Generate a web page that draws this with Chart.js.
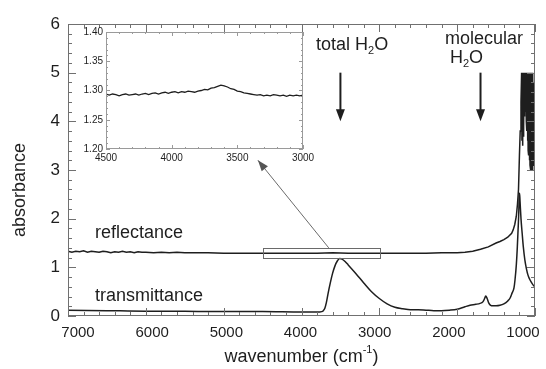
<!DOCTYPE html>
<html>
<head>
<meta charset="utf-8">
<script src="https://cdn.jsdelivr.net/npm/chart.js@4.4.1/dist/chart.umd.min.js"></script>
<style>
  html, body { margin: 0; padding: 0; background: #fff; }
  #wrap { position: relative; width: 546px; height: 369px; }
  #main { position: absolute; left: 0; top: 0; }
  #inset { position: absolute; left: 66px; top: 24px; }
</style>
</head>
<body>
<div id="wrap">
  <canvas id="main" width="546" height="369"></canvas>
  <canvas id="inset" width="254" height="146"></canvas>
</div>
<script>
// reflectance spectrum (wavenumber cm-1 / absorbance)
const reflWn = [7000, 6950, 6900, 6850, 6800, 6750, 6700, 6650, 6600, 6550, 6500, 6450, 6400, 6350, 6300, 6250, 6200, 6150, 6100, 6050,
  6000, 5900, 5800, 5700, 5600, 5500, 5400, 5300, 5200, 5000, 4800, 4600, 4400, 4200, 4000, 3800, 3600, 3400, 3200, 3000,
  2800, 2600, 2400, 2200, 2000, 1900, 1800, 1700, 1600, 1500, 1450, 1400, 1350, 1300, 1280, 1260, 1240, 1225, 1212, 1200,
  1190, 1180, 1172,
  1168, 1164, 1160, 1156, 1152, 1148, 1144, 1140, 1136, 1132, 1128, 1124, 1120, 1116, 1112, 1108, 1104, 1100, 1096, 1092,
  1088, 1084, 1080, 1076, 1072, 1068, 1064, 1060, 1056, 1052, 1048, 1044, 1040, 1036, 1032, 1028, 1024, 1020, 1016, 1012,
  1008, 1004, 1000];
const reflAbs = [1.33, 1.31, 1.33, 1.32, 1.34, 1.31, 1.33, 1.32, 1.31, 1.33, 1.32, 1.30, 1.32, 1.31, 1.33, 1.31, 1.32, 1.30, 1.32, 1.31,
  1.31, 1.30, 1.31, 1.30, 1.31, 1.30, 1.30, 1.30, 1.30, 1.29, 1.29, 1.29, 1.29, 1.29, 1.29, 1.29, 1.30, 1.29, 1.29, 1.29,
  1.29, 1.29, 1.29, 1.30, 1.30, 1.31, 1.33, 1.37, 1.42, 1.50, 1.53, 1.57, 1.62, 1.70, 1.77, 1.88, 2.05, 2.30, 2.60, 3.30,
  3.80, 4.40, 5.00,
  3.60, 5.00, 3.50, 5.00, 3.70, 5.00, 3.90, 5.00, 4.10, 5.00, 4.30, 5.00, 4.20, 5.00, 4.00, 5.00, 3.80, 5.00, 3.60, 5.00,
  3.40, 5.00, 3.30, 5.00, 3.20, 5.00, 3.10, 5.00, 3.00, 5.00, 3.00, 5.00, 3.00, 4.90, 3.00, 5.00, 3.10, 4.80, 3.20, 4.20,
  3.10, 3.60, 3.20];

// transmittance spectrum
const transWn = [7000, 6500, 6000, 5500, 5000, 4500, 4000, 3800, 3740, 3720, 3700, 3680, 3660, 3630, 3600, 3570, 3540, 3510, 3480, 3440,
  3400, 3300, 3200, 3100, 3000, 2900, 2800, 2700, 2600, 2500, 2400, 2300, 2200, 2100, 2000, 1900, 1835, 1760, 1706, 1670,
  1650, 1633, 1615, 1595, 1570, 1540, 1500, 1450, 1400, 1350, 1320, 1295, 1270, 1257, 1240, 1227, 1218, 1209, 1203, 1198,
  1192, 1180, 1165, 1150, 1130, 1110, 1090, 1070, 1050, 1030, 1010, 1000];
const transAbs = [0.12, 0.11, 0.10, 0.10, 0.09, 0.09, 0.08, 0.08, 0.09, 0.11, 0.16, 0.28, 0.45, 0.68, 0.88, 1.03, 1.13, 1.18, 1.17, 1.12,
  1.05, 0.87, 0.68, 0.50, 0.36, 0.25, 0.18, 0.15, 0.13, 0.13, 0.12, 0.11, 0.11, 0.12, 0.14, 0.19, 0.22, 0.24, 0.26, 0.29,
  0.35, 0.41, 0.36, 0.27, 0.22, 0.21, 0.21, 0.22, 0.25, 0.31, 0.37, 0.47, 0.58, 0.74, 1.05, 1.42, 1.75, 2.10, 2.45, 2.52,
  2.35, 2.00, 1.70, 1.42, 1.15, 0.97, 0.84, 0.76, 0.70, 0.65, 0.61, 0.60];

// inset: reflectance between 4500 and 3000 cm-1
const insetWn = [4500, 4475, 4450, 4425, 4400, 4375, 4350, 4325, 4300, 4275, 4250, 4225, 4200, 4175, 4150, 4125, 4100, 4075, 4050, 4025,
  4000, 3975, 3950, 3925, 3900, 3875, 3850, 3825, 3800, 3775, 3750, 3725, 3700, 3675, 3650, 3625, 3600, 3575, 3550, 3525,
  3500, 3475, 3450, 3425, 3400, 3375, 3350, 3325, 3300, 3275, 3250, 3225, 3200, 3175, 3150, 3125, 3100, 3075, 3050, 3025, 3000];
const insetAbs = [1.294, 1.292, 1.294, 1.293, 1.291, 1.293, 1.294, 1.292, 1.293, 1.294, 1.292, 1.294, 1.295, 1.293, 1.295, 1.296, 1.294, 1.296, 1.297, 1.295,
  1.297, 1.298, 1.296, 1.298, 1.297, 1.299, 1.298, 1.297, 1.299, 1.300, 1.302, 1.301, 1.304, 1.305, 1.307, 1.309, 1.308, 1.306, 1.303, 1.302,
  1.299, 1.298, 1.296, 1.295, 1.294, 1.293, 1.292, 1.293, 1.291, 1.292, 1.291, 1.293, 1.292, 1.291, 1.292, 1.290, 1.292, 1.291, 1.292, 1.291, 1.292];

// tick labels
const mainXTicks = [1000, 2000, 3000, 4000, 5000, 6000, 7000];
const mainYTicks = [0, 1, 2, 3, 4, 5, 6];
const insetXTicks = [3000, 3500, 4000, 4500];
const insetYTicks = [1.20, 1.25, 1.30, 1.35, 1.40];

const FONT = "'Liberation Sans', Arial, Helvetica, sans-serif";
const INK = '#1e1e1e';

const toPts = (xs, ys) => xs.map((v, i) => ({x: v, y: ys[i]}));

function seg(ctx, x1, y1, x2, y2) {
    ctx.beginPath(); ctx.moveTo(x1, y1); ctx.lineTo(x2, y2); ctx.stroke();
}

// frame + inward ticks on all four sides
function drawFrame(chart, xMinor, xMajor, yMinor, yMajor, lens, color) {
    const {ctx, chartArea: a, scales: {x, y}} = chart;
    ctx.save();
    ctx.strokeStyle = color;
    ctx.lineWidth = 1;
    ctx.strokeRect(Math.round(a.left) + 0.5, Math.round(a.top) + 0.5,
        Math.round(a.right - a.left) - 1, Math.round(a.bottom - a.top) - 1);
    const nx = Math.round((x.max - x.min) / xMinor);
    for (let k = 0; k <= nx; k++) {
        const v = x.min + k * xMinor;
        const px = Math.round(x.getPixelForValue(v)) + 0.5;
        const len = Math.abs(v / xMajor - Math.round(v / xMajor)) < 1e-6 ? lens[0] : lens[1];
        seg(ctx, px, a.bottom, px, a.bottom - len);
        seg(ctx, px, a.top, px, a.top + len);
    }
    const ny = Math.round((y.max - y.min) / yMinor);
    for (let k = 0; k <= ny; k++) {
        const v = y.min + k * yMinor;
        const py = Math.round(y.getPixelForValue(v)) + 0.5;
        const len = Math.abs(v / yMajor - Math.round(v / yMajor)) < 1e-6 ? lens[0] : lens[1];
        seg(ctx, a.left, py, a.left + len, py);
        seg(ctx, a.right, py, a.right - len, py);
    }
    ctx.restore();
}

// text with a subscript part: parts = [[text, isSub], ...]
function subText(ctx, parts, x, y, size) {
    let cx = x;
    parts.forEach(([t, sub]) => {
        ctx.font = (sub ? Math.round(size * 0.62) : size) + 'px ' + FONT;
        ctx.fillText(t, cx, sub ? y + size * 0.33 : y);
        cx += ctx.measureText(t).width;
    });
}

function arrowHead(ctx, x1, y1, x2, y2, len, half) {
    const ang = Math.atan2(y2 - y1, x2 - x1);
    ctx.beginPath();
    ctx.moveTo(x2, y2);
    ctx.lineTo(x2 - len * Math.cos(ang) + half * Math.sin(ang), y2 - len * Math.sin(ang) - half * Math.cos(ang));
    ctx.lineTo(x2 - len * Math.cos(ang) - half * Math.sin(ang), y2 - len * Math.sin(ang) + half * Math.cos(ang));
    ctx.closePath();
    ctx.fill();
}

const mainDecor = {
    id: 'mainDecor',
    beforeDraw(chart) {
        // the printed labels sit a little closer together than the ticks: nudge them toward the middle
        chart.scales.x.getLabelItems().forEach(it => {
            const v = Number(it.label);
            it.options.translation[0] += -12 + (v - 1000) / 6000 * 22;
        });
    },
    afterDatasetsDraw(chart) {
        drawFrame(chart, 200, 1000, 0.2, 1, [8, 4], '#707070');
        const {ctx, chartArea: a, scales: {x, y}} = chart;
        ctx.save();
        ctx.fillStyle = INK;
        ctx.textBaseline = 'middle';
        ctx.textAlign = 'left';

        // axis titles
        ctx.font = '18px ' + FONT;
        ctx.save();
        ctx.translate(20, 190);
        ctx.rotate(-Math.PI / 2);
        ctx.textAlign = 'center';
        ctx.fillText('absorbance', 0, 0);
        ctx.restore();
        const t1 = 'wavenumber (cm', t2 = '-1', t3 = ')';
        ctx.font = '18px ' + FONT; const w1 = ctx.measureText(t1).width, w3 = ctx.measureText(t3).width;
        ctx.font = '11px ' + FONT; const w2 = ctx.measureText(t2).width;
        let tx = (a.left + a.right) / 2 - (w1 + w2 + w3) / 2;
        ctx.font = '18px ' + FONT; ctx.fillText(t1, tx, 357); tx += w1;
        ctx.font = '11px ' + FONT; ctx.fillText(t2, tx, 350); tx += w2;
        ctx.font = '18px ' + FONT; ctx.fillText(t3, tx, 357);

        // curve labels
        ctx.fillText('reflectance', 95, 233);
        ctx.fillText('transmittance', 95, 296);

        // band annotations
        subText(ctx, [['total H', false], ['2', true], ['O', false]], 316, 45, 18);
        ctx.font = '18px ' + FONT;
        ctx.fillText('molecular', 445, 39);
        subText(ctx, [['H', false], ['2', true], ['O', false]], 450, 58, 18);

        ctx.strokeStyle = INK;
        ctx.lineWidth = 2;
        [3500, 1700].forEach(v => {
            const px = x.getPixelForValue(v);
            const y1 = y.getPixelForValue(5.0), y2 = y.getPixelForValue(4.0);
            seg(ctx, px, y1, px, y2 - 8);
            arrowHead(ctx, px, y1, px, y2, 12, 4.5);
        });

        // zoom box and connector to the inset
        ctx.strokeStyle = '#6a6a6a';
        ctx.lineWidth = 1;
        const bx1 = x.getPixelForValue(4500), bx2 = x.getPixelForValue(3000);
        const by1 = y.getPixelForValue(1.4), by2 = y.getPixelForValue(1.2);
        ctx.strokeRect(Math.round(bx1) + 0.5, Math.round(by1) + 0.5, Math.round(bx2 - bx1), Math.round(by2 - by1));
        const cx1 = x.getPixelForValue(3650), cy1 = by1;
        const cx2 = x.getPixelForValue(4560), cy2 = y.getPixelForValue(3.2);
        ctx.fillStyle = '#555';
        seg(ctx, cx1, cy1, cx2, cy2);
        arrowHead(ctx, cx1, cy1, cx2, cy2, 11, 4);
        ctx.restore();
    }
};

new Chart(document.getElementById('main'), {
    type: 'line',
    data: {
        datasets: [
            {label: 'reflectance', data: toPts(reflWn, reflAbs), borderColor: INK, borderWidth: 1.5, pointRadius: 0, tension: 0},
            {label: 'transmittance', data: toPts(transWn, transAbs), borderColor: INK, borderWidth: 1.5, pointRadius: 0, cubicInterpolationMode: 'monotone'}
        ]
    },
    options: {
        responsive: false,
        animation: false,
        events: [],
        layout: {padding: {left: 0, right: 11, top: 24, bottom: 0}},
        plugins: {legend: {display: false}, tooltip: {enabled: false}},
        scales: {
            x: {
                type: 'linear', reverse: true, min: 1000, max: 7000,
                grid: {display: false, drawTicks: false},
                border: {display: false},
                afterBuildTicks: s => { s.ticks = mainXTicks.map(v => ({value: v})); },
                afterFit: s => { s.height = 53; s.paddingLeft = 0; s.paddingRight = 0; },
                ticks: {callback: v => String(v), padding: 8, color: INK, maxRotation: 0, autoSkip: false,
                    font: {family: FONT, size: 15}}
            },
            y: {
                type: 'linear', min: 0, max: 6,
                grid: {display: false, drawTicks: false},
                border: {display: false},
                afterBuildTicks: s => { s.ticks = mainYTicks.map(v => ({value: v})); },
                afterFit: s => { s.width = 68; s.paddingTop = 0; s.paddingBottom = 0; },
                ticks: {callback: v => String(v), padding: 8, color: INK, font: {family: FONT, size: 17}}
            }
        }
    },
    plugins: [mainDecor]
});

const insetDecor = {
    id: 'insetDecor',
    beforeDatasetsDraw(chart) {
        const {ctx, chartArea: a} = chart;
        ctx.save();
        ctx.fillStyle = '#fff';
        ctx.fillRect(a.left, a.top, a.right - a.left, a.bottom - a.top);
        ctx.restore();
    },
    afterDatasetsDraw(chart) {
        drawFrame(chart, 100, 500, 0.01, 0.05, [4, 2], '#9a9a9a');
    }
};

new Chart(document.getElementById('inset'), {
    type: 'line',
    data: {
        datasets: [
            {label: 'reflectance (zoom)', data: toPts(insetWn, insetAbs), borderColor: INK, borderWidth: 1.3, pointRadius: 0, tension: 0}
        ]
    },
    options: {
        responsive: false,
        animation: false,
        events: [],
        layout: {padding: {left: 0, right: 17, top: 8, bottom: 0}},
        plugins: {legend: {display: false}, tooltip: {enabled: false}},
        scales: {
            x: {
                type: 'linear', reverse: true, min: 3000, max: 4500,
                grid: {display: false, drawTicks: false},
                border: {display: false},
                afterBuildTicks: s => { s.ticks = insetXTicks.map(v => ({value: v})); },
                afterFit: s => { s.height = 21; s.paddingLeft = 0; s.paddingRight = 0; },
                ticks: {callback: v => String(v), padding: 3, color: INK, maxRotation: 0, autoSkip: false,
                    font: {family: FONT, size: 10}}
            },
            y: {
                type: 'linear', min: 1.2, max: 1.4,
                grid: {display: false, drawTicks: false},
                border: {display: false},
                afterBuildTicks: s => { s.ticks = insetYTicks.map(v => ({value: v})); },
                afterFit: s => { s.width = 40; s.paddingTop = 0; s.paddingBottom = 0; },
                ticks: {callback: v => v.toFixed(2), padding: 3, color: INK, font: {family: FONT, size: 10}}
            }
        }
    },
    plugins: [insetDecor]
});
</script>
</body>
</html>
